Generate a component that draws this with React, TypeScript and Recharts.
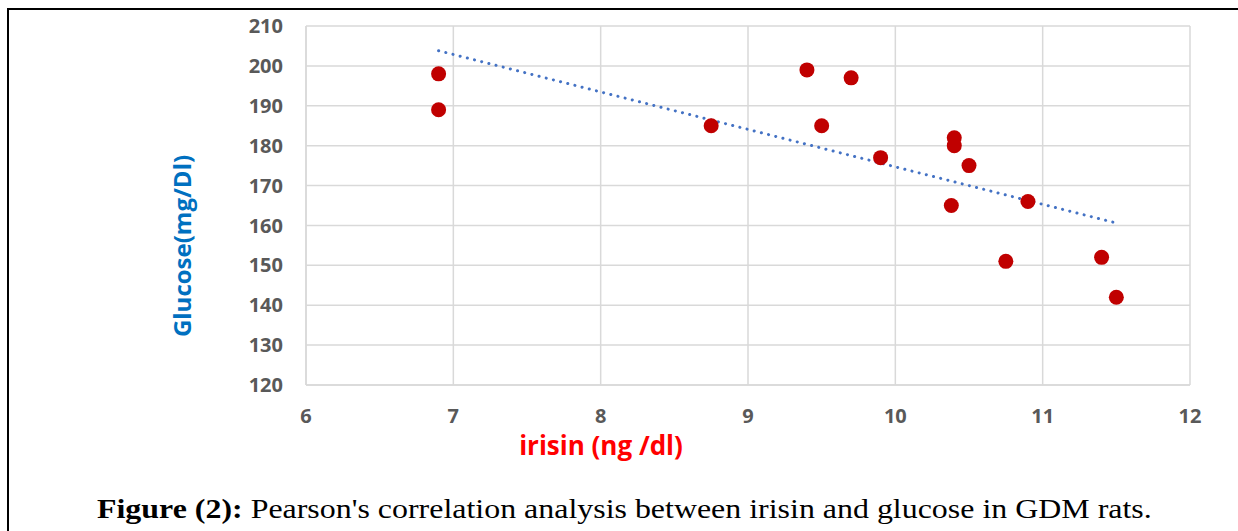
import { ScatterChart, Scatter, XAxis, YAxis, CartesianGrid } from 'recharts';

const irisin = [6.9, 6.9, 8.75, 9.4, 9.5, 9.7, 9.9, 10.4, 10.4, 10.5, 10.38, 10.9, 10.75, 11.4, 11.5];
const glucose = [198, 189, 185, 199, 185, 197, 177, 182, 180, 175, 165, 166, 151, 152, 142];

// trend line ends
const trendX = [6.9, 11.5];
const trendY = [203.8, 160.6];

const xTicks = [6, 7, 8, 9, 10, 11, 12];
const yTicks = [120, 130, 140, 150, 160, 170, 180, 190, 200, 210];

const points = irisin.map((x, i) => ({ x, y: glucose[i] }));
const trend = trendX.map((x, i) => ({ x, y: trendY[i] }));

const tickStyle = {
  fill: '#595959',
  fontWeight: 700,
  fontSize: 20,
  fontFamily: '"Open Sans", sans-serif',
};

// eslint-disable-next-line require-jsdoc
export default function App(): JSX.Element {
  return (
    <div
      style={{
        position: 'absolute',
        left: 0,
        top: 0,
        width: 1238,
        height: 531,
        overflow: 'hidden',
        background: '#fff',
      }}
    >
      <div
        style={{
          position: 'absolute',
          left: 7,
          top: 8,
          width: 1300,
          height: 600,
          border: '2px solid #000',
        }}
      />
      <div style={{ position: 'absolute', left: 0, top: 0 }}>
        <ScatterChart
          width={1238}
          height={531}
          margin={{ top: 26, right: 48, bottom: 106, left: 246 }}
        >
          <CartesianGrid stroke="#d9d9d9" strokeWidth={1.5} />
          <XAxis
            type="number"
            dataKey="x"
            domain={[6, 12]}
            ticks={xTicks}
            height={40}
            tickLine={false}
            tickSize={0}
            tickMargin={24}
            axisLine={{ stroke: '#d9d9d9', strokeWidth: 1.5 }}
            tick={tickStyle}
          />
          <YAxis
            type="number"
            dataKey="y"
            domain={[120, 210]}
            ticks={yTicks}
            width={60}
            tickLine={false}
            tickSize={0}
            tickMargin={23}
            axisLine={{ stroke: '#d9d9d9', strokeWidth: 1.5 }}
            tick={tickStyle}
          />
          <Scatter
            data={trend}
            isAnimationActive={false}
            line={{
              stroke: '#4472c4',
              strokeWidth: 3,
              strokeDasharray: '0.1 7.3',
              strokeLinecap: 'round',
            }}
            shape={() => <g />}
          />
          <Scatter
            data={points}
            fill="#c00000"
            isAnimationActive={false}
            shape={(p: any) => <circle cx={p.cx} cy={p.cy} r={7.5} fill="#c00000" />}
          />
        </ScatterChart>
      </div>
      <div
        style={{
          position: 'absolute',
          left: 182,
          top: 246,
          transform: 'translate(-50%, -50%) rotate(-90deg)',
          color: '#0070c0',
          fontWeight: 700,
          fontSize: 24,
          fontFamily: '"Open Sans", sans-serif',
          whiteSpace: 'nowrap',
          lineHeight: 1,
        }}
      >
        Glucose(mg/Dl)
      </div>
      <div
        style={{
          position: 'absolute',
          left: 601,
          top: 445,
          transform: 'translate(-50%, -50%)',
          color: '#ff0000',
          fontWeight: 700,
          fontSize: 26,
          fontFamily: '"Open Sans", sans-serif',
          whiteSpace: 'nowrap',
          lineHeight: 1,
        }}
      >
        irisin (ng /dl)
      </div>
      <div
        style={{
          position: 'absolute',
          left: 97,
          top: 495,
          fontSize: 28,
          fontFamily: '"Liberation Serif", "Times New Roman", serif',
          whiteSpace: 'nowrap',
          lineHeight: 1,
          color: '#000',
          transform: 'scaleX(1.14)',
          transformOrigin: 'left center',
        }}
      >
        <b>Figure (2):</b> Pearson's correlation analysis between irisin and glucose in GDM rats.
      </div>
    </div>
  );
}
